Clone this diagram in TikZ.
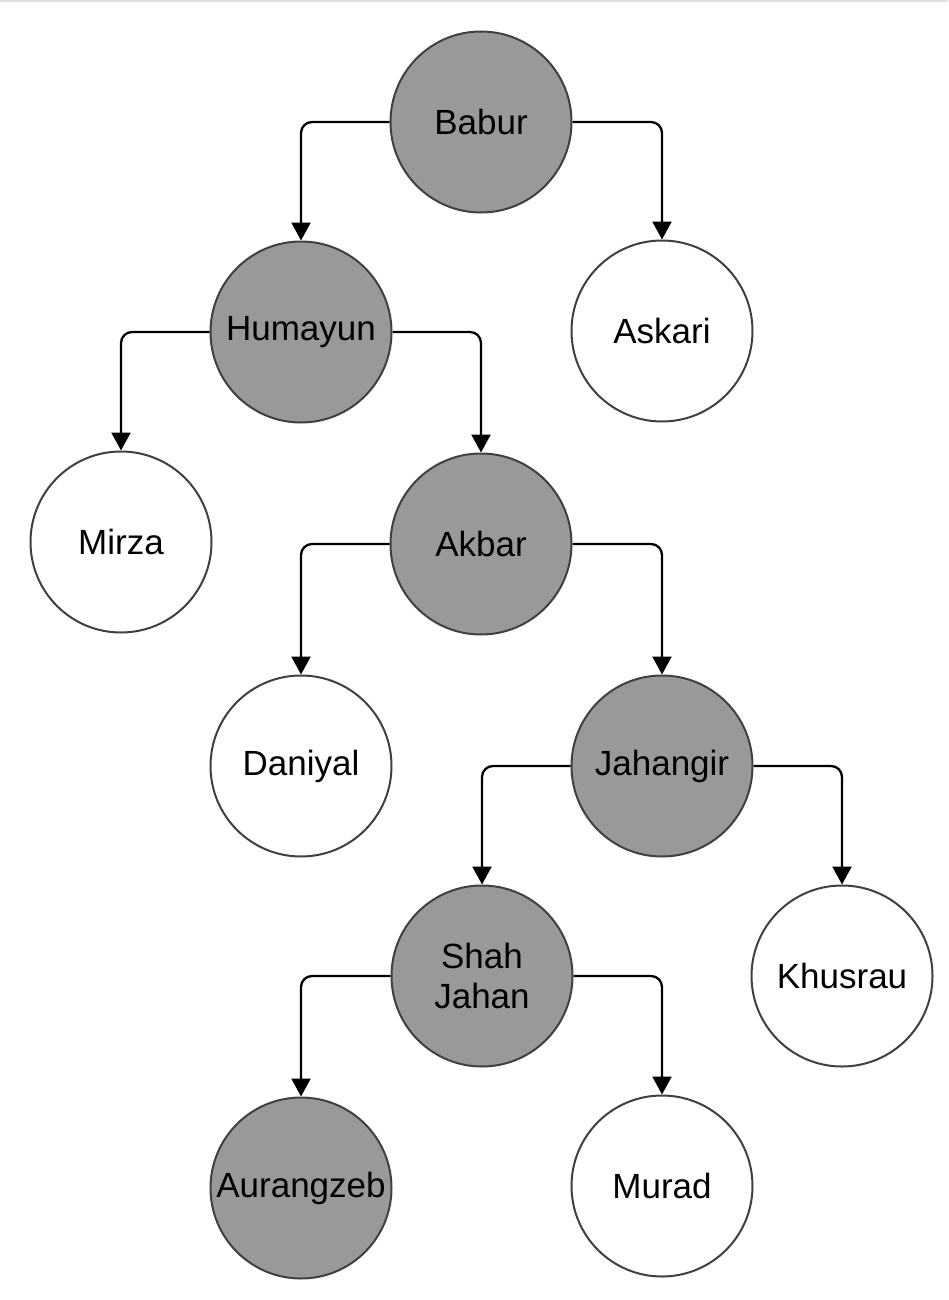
\documentclass[tikz,border=0pt]{standalone}
\usepackage{fontspec}
\setmainfont{Liberation Sans}
\usetikzlibrary{arrows.meta}
\definecolor{nodegray}{HTML}{999999}
\definecolor{edgegray}{HTML}{404040}
\tikzset{
  person/.style={circle, draw=edgegray, line width=2pt, minimum size=181pt, inner sep=0pt,
    font=\fontsize{35}{40}\selectfont, align=center, text=black},
  ruler/.style={person, fill=nodegray},
  other/.style={person, fill=white},
  conn/.style={line width=2.3pt, draw=black, rounded corners=11pt,
    -{Triangle[width=19pt,length=18pt]}}
}
\begin{document}
\begin{tikzpicture}[x=1pt,y=-1pt]
\useasboundingbox (0,0) rectangle (948,1300);
\fill[gray!25] (0,0) rectangle (948,2);
\node[ruler] (babur) at (481,122) {Babur};
\node[ruler] (humayun) at (301,332) {Humayun};
\node[other] (askari) at (662,331) {Askari};
\node[other] (mirza) at (121,542) {Mirza};
\node[ruler] (akbar) at (481,544) {Akbar};
\node[other] (daniyal) at (301,766) {Daniyal};
\node[ruler] (jahangir) at (662,766) {Jahangir};
\node[ruler] (shahjahan) at (482,976) {Shah\\Jahan};
\node[other] (khusrau) at (842,976) {Khusrau};
\node[ruler] (aurangzeb) at (301,1188) {Aurangzeb};
\node[other] (murad) at (662,1186) {Murad};
\draw[conn] (babur.west) -| (humayun.north);
\draw[conn] (babur.east) -| (askari.north);
\draw[conn] (humayun.west) -| (mirza.north);
\draw[conn] (humayun.east) -| (akbar.north);
\draw[conn] (akbar.west) -| (daniyal.north);
\draw[conn] (akbar.east) -| (jahangir.north);
\draw[conn] (jahangir.west) -| (shahjahan.north);
\draw[conn] (jahangir.east) -| (khusrau.north);
\draw[conn] (shahjahan.west) -| (aurangzeb.north);
\draw[conn] (shahjahan.east) -| (murad.north);
\end{tikzpicture}
\end{document}
